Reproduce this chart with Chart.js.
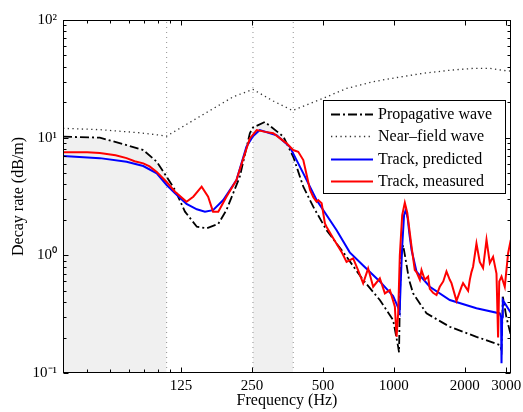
<!DOCTYPE html>
<html><head><meta charset="utf-8">
<script src="https://cdn.jsdelivr.net/npm/chart.js@4/dist/chart.umd.min.js"></script>
<style>html,body{margin:0;padding:0;background:#fff;}canvas{display:block;}</style>
</head><body>
<canvas id="c" width="523" height="412"></canvas>
<script>
// ---- data (Hz, dB/m) ----
const propFreq = [39.5, 56.6, 73.5, 86.5, 98.7, 108.7, 118, 130, 146, 161, 180, 195, 222, 245, 252.6, 284, 340, 374.3, 413, 455, 518, 630, 741, 872, 993, 1043, 1052, 1062, 1075, 1095, 1130, 1160, 1207, 1376, 1727, 2241, 2815, 2862, 2900, 3000, 3133];
const propRate = [10.2, 10.0, 8.65, 7.85, 6.24, 4.65, 3.59, 2.35, 1.75, 1.70, 1.85, 2.43, 4.65, 10.9, 12.2, 13.6, 10.2, 6.88, 3.83, 2.59, 1.64, 0.973, 0.617, 0.417, 0.282, 0.167, 0.15, 0.5, 1.0, 1.22, 0.85, 0.62, 0.475, 0.321, 0.247, 0.203, 0.173, 0.157, 0.445, 0.30, 0.21];

const nearFreq = [39.5, 56.6, 83.8, 101.5, 108.7, 150, 208.7, 252.6, 307.7, 372, 501, 630, 817, 1043, 1323, 1750, 2168, 2553, 3004, 3140];
const nearRate = [12.0, 11.7, 11.0, 10.5, 10.3, 15.1, 22.3, 25.7, 20.5, 17.0, 21.6, 26.2, 29.9, 32.6, 35.2, 37.5, 38.8, 38.8, 37.0, 36.8];

const predFreq = [39.5, 56.6, 73.5, 86.5, 98.7, 108.7, 118, 132, 146, 158, 171, 189, 215, 237, 252.6, 270, 318, 362, 413, 470, 571, 650, 741, 872, 993, 1043, 1058, 1070, 1085, 1105, 1124, 1145, 1165, 1189, 1248, 1421, 1727, 2241, 2815, 2850, 2862, 2880, 2898, 3133];
const predRate = [7.0, 6.7, 6.25, 5.74, 4.97, 3.96, 3.36, 2.73, 2.46, 2.35, 2.42, 2.95, 4.36, 8.37, 10.3, 11.6, 10.5, 8.37, 4.97, 2.95, 1.64, 1.06, 0.82, 0.6, 0.45, 0.36, 0.33, 0.6, 1.2, 2.2, 2.43, 2.05, 1.5, 1.11, 0.726, 0.541, 0.417, 0.355, 0.321, 0.3, 0.121, 0.3, 0.417, 0.325];

const measFreq = [39.5, 50, 56.6, 66, 73.5, 79.5, 86.5, 92, 98.7, 108.7, 118, 132, 141, 153, 163, 171, 180, 195, 215, 233.5, 245, 262, 285, 308, 351, 374, 393, 413, 427, 441, 456, 470, 478, 494, 510, 518, 553, 600, 630, 672, 705, 741, 778, 817, 872, 916, 962, 1010, 1027, 1043, 1060, 1085, 1113, 1140, 1189, 1227, 1248, 1289, 1310, 1353, 1397, 1421, 1467, 1517, 1566, 1620, 1672, 1727, 1756, 1844, 1936, 1966, 2065, 2100, 2134, 2168, 2241, 2314, 2390, 2472, 2553, 2636, 2725, 2768, 2800, 2862, 2955, 3052, 3133];
const measRate = [7.5, 7.5, 7.4, 7.1, 6.7, 6.3, 6.05, 5.7, 5.1, 4.2, 3.47, 2.85, 3.15, 3.83, 3.15, 2.35, 2.35, 3.15, 4.36, 7.36, 9.86, 11.6, 11.2, 10.9, 8.95, 7.85, 7.59, 6.45, 4.8, 3.59, 3.1, 2.85, 2.95, 2.77, 1.87, 1.75, 1.40, 1.07, 0.88, 0.943, 0.75, 0.578, 0.775, 0.541, 0.638, 0.475, 0.507, 0.366, 0.203, 0.32, 1.0, 2.2, 2.8, 2.3, 1.18, 0.75, 0.72, 0.62, 0.75, 0.62, 0.66, 0.52, 0.48, 0.46, 0.54, 0.6, 0.73, 0.62, 0.58, 0.41, 0.54, 0.58, 0.5, 0.62, 0.72, 0.8, 1.26, 0.88, 0.78, 1.36, 0.86, 0.97, 0.70, 0.2, 0.6, 0.66, 0.54, 1.04, 1.35];

const bandEdges = [108.7, 252.6, 374.3];
const passBands = [[39.5, 108.7], [252.6, 374.3]];

const xTickValues = [50, 62.5, 75, 87.5, 100, 112.5, 125, 250, 500, 1000, 2000, 3000];
const xTickLabels = ['', '', '', '', '', '', '125', '250', '500', '1000', '2000', '3000'];
const yDecades = [0.1, 1, 10, 100];
const yDecadeLabels = ['10\u207B\u00B9', '10\u2070', '10\u00B9', '10\u00B2'];
const xRange = [39.5, 3140];

// ---- build ----
const pts = (fx, fy) => fx.map((f, i) => ({x: f, y: fy[i]}));
const yTickValues = [];
yDecades.slice(0, -1).forEach(d => { for (let k = 1; k <= 9; k++) yTickValues.push(+(d * k).toPrecision(3)); });
yTickValues.push(yDecades[yDecades.length - 1]);

const FONT = '"Liberation Serif", "Times New Roman", serif';
const line = (label, fx, fy, color, width, dash) => ({
  label, data: pts(fx, fy), borderColor: color, borderWidth: width, borderDash: dash || [],
  pointRadius: 0, tension: 0, fill: false
});

const dsMeas = line('Track, measured', measFreq, measRate, '#ff0000', 2);
const dsPred = line('Track, predicted', predFreq, predRate, '#0000ff', 2);
const dsNear = line('Near\u2013field wave', nearFreq, nearRate, '#333333', 1.3, [1.3, 3.4]);
const dsProp = line('Propagative wave', propFreq, propRate, '#000000', 1.8, [9, 3, 2, 3]);

const vlines = bandEdges.map(f => ({
  label: '', data: [{x: f, y: yDecades[0]}, {x: f, y: yDecades[yDecades.length - 1]}],
  borderColor: '#909090', borderWidth: 1, borderDash: [1, 4], pointRadius: 0, fill: false
}));
const fills = passBands.map(([a, b]) => ({
  label: '', data: pts(propFreq, propRate).filter(p => p.x >= a && p.x <= b),
  borderWidth: 0, borderColor: 'rgba(0,0,0,0)', backgroundColor: '#f0f0f0', pointRadius: 0, fill: 'start'
}));

const legendItems = [dsProp, dsNear, dsPred, dsMeas];

const framePlugin = {
  id: 'frame',
  afterDraw(chart) {
    const {ctx, chartArea: a, scales: {x, y}} = chart;
    ctx.save();
    ctx.strokeStyle = '#000'; ctx.lineWidth = 1;
    const L = Math.round(a.left) + 0.5, R = Math.round(a.right) - 0.5, T = Math.round(a.top) + 0.5, B = Math.round(a.bottom) - 0.5;
    ctx.beginPath();
    xTickValues.forEach((v, i) => {
      const p = Math.round(x.getPixelForValue(v)) + 0.5;
      const len = xTickLabels[i] ? 5 : 3;
      ctx.moveTo(p, B); ctx.lineTo(p, B - len);
      ctx.moveTo(p, T); ctx.lineTo(p, T + len);
    });
    yTickValues.forEach(v => {
      const p = Math.round(y.getPixelForValue(v)) + 0.5;
      const len = yDecades.includes(v) ? 5 : 3;
      ctx.moveTo(L, p); ctx.lineTo(L + len, p);
      ctx.moveTo(R, p); ctx.lineTo(R - len, p);
    });
    ctx.stroke();
    ctx.strokeRect(L, T, R - L, B - T);

    // legend box
    const bx = 323.5, by = 100.5, bw = 182, bh = 93;
    ctx.fillStyle = '#fff'; ctx.fillRect(bx, by, bw, bh);
    ctx.strokeRect(bx, by, bw, bh);
    ctx.font = '16px ' + FONT; ctx.textBaseline = 'middle'; ctx.fillStyle = '#000';
    legendItems.forEach((ds, i) => {
      const yy = Math.round(114 + i * 22.3) + 0.5;
      ctx.beginPath();
      ctx.strokeStyle = ds.borderColor; ctx.lineWidth = ds.borderWidth;
      ctx.setLineDash(ds.borderDash);
      ctx.moveTo(331, yy); ctx.lineTo(373, yy); ctx.stroke();
      ctx.setLineDash([]);
      ctx.fillText(ds.label, 378, yy);
    });
    ctx.restore();
  }
};

new Chart(document.getElementById('c'), {
  type: 'line',
  data: {datasets: [dsMeas, dsPred, dsNear, dsProp, ...vlines, ...fills]},
  options: {
    responsive: false, animation: false, devicePixelRatio: 1,
    layout: {padding: {left: 0, right: 12, top: 20, bottom: 0}},
    plugins: {legend: {display: false}, tooltip: {enabled: false}},
    scales: {
      x: {
        type: 'logarithmic', min: xRange[0], max: xRange[1],
        afterBuildTicks: s => { s.ticks = xTickValues.map(v => ({value: v})); },
        afterFit: s => { s.height = 39; s.paddingLeft = 0; s.paddingRight = 0; },
        grid: {display: false, drawTicks: false}, border: {display: false},
        ticks: {autoSkip: false, maxRotation: 0, minRotation: 0, padding: 4, color: '#000',
          font: {family: FONT, size: 15}, callback: (v, i) => xTickLabels[i]},
        title: {display: true, text: 'Frequency (Hz)', color: '#000', font: {family: FONT, size: 16}, padding: {top: 0, bottom: 2}}
      },
      y: {
        type: 'logarithmic', min: yDecades[0], max: yDecades[yDecades.length - 1],
        afterBuildTicks: s => { s.ticks = yTickValues.map(v => ({value: v})); },
        afterFit: s => { s.width = 63; s.paddingTop = 0; s.paddingBottom = 0; },
        grid: {display: false, drawTicks: false}, border: {display: false},
        ticks: {autoSkip: false, padding: 6, color: '#000', font: {family: FONT, size: 15},
          callback: (v) => { const k = yDecades.indexOf(v); return k >= 0 ? yDecadeLabels[k] : ''; }},
        title: {display: true, text: 'Decay rate (dB/m)', color: '#000', font: {family: FONT, size: 16}, padding: {top: 9, bottom: 0}}
      }
    }
  },
  plugins: [framePlugin]
});
</script>
</body></html>
